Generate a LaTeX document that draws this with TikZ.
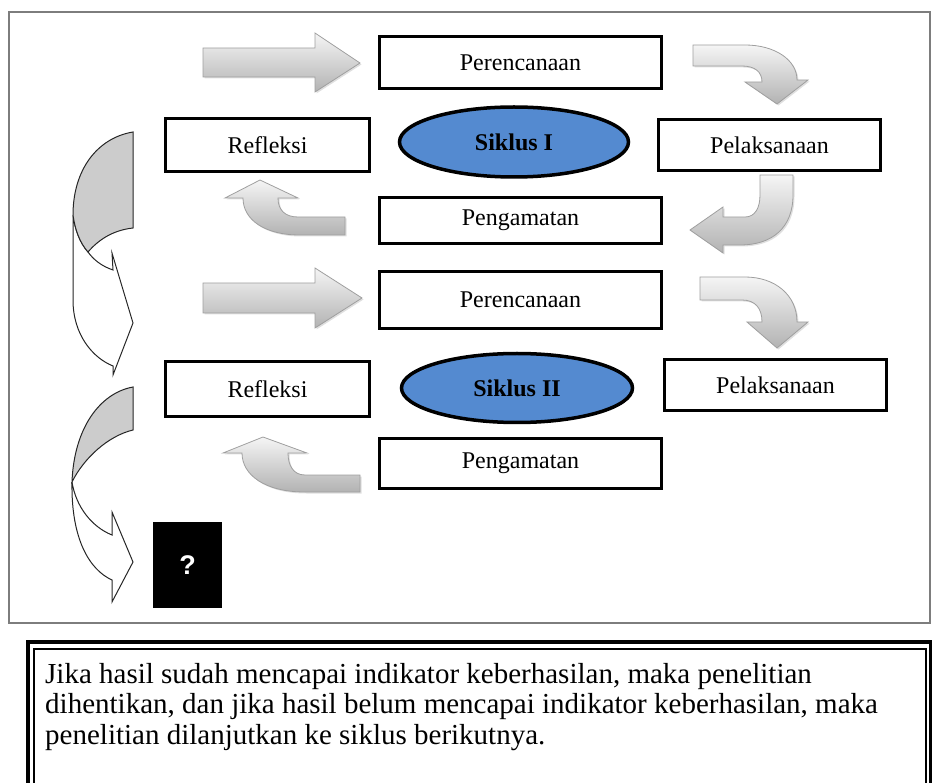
\documentclass[tikz,border=0pt]{standalone}
\usepackage{fontspec}
\setmainfont{Liberation Serif}
\newfontfamily\qmarkfont{Liberation Sans}
\usepackage{xcolor}
\usepackage{tikz}
\usetikzlibrary{shapes.geometric}
\usetikzlibrary{shadows}
\definecolor{siklusblue}{RGB}{84,138,208}
\definecolor{uturngray}{RGB}{204,204,204}
\definecolor{framegray}{RGB}{125,125,125}

\tikzset{
  stagebox/.style={rectangle, draw=black, line width=3.5pt, fill=white, inner sep=0pt,
    font=\fontsize{24}{27}\selectfont},
  siklus/.style={ellipse, draw=black, line width=3.5pt, fill=siklusblue, inner sep=0pt,
    font=\bfseries\fontsize{24}{27}\selectfont},
  blockarrow/.style={draw=gray!75, line width=0.8pt, top color=gray!8, bottom color=gray!60,
    drop shadow={opacity=0.25, shadow xshift=1.5pt, shadow yshift=-1.5pt}},
  uturn/.style={draw=gray!30!black, line width=1pt}
}

\begin{document}
\begin{tikzpicture}[x=1pt, y=-1pt]
\useasboundingbox (0,0) rectangle (932,783);
\clip (0,0) rectangle (932,783);

\draw[framegray, line width=2pt] (9,12) rectangle (930,623);

% siklus I
\node[stagebox, minimum width=282pt, minimum height=52pt] (per1) at (520.5,62.5) {Perencanaan};
\node[stagebox, minimum width=204pt, minimum height=53pt] (ref1) at (267.5,145) {Refleksi};
\node[siklus, minimum width=229pt, minimum height=70pt] (sik1) at (514,142) {Siklus I};
\node[stagebox, minimum width=222pt, minimum height=51pt] (pel1) at (769.5,145) {Pelaksanaan};
\node[stagebox, minimum width=282pt, minimum height=46pt] (pen1) at (520.5,220.5) {Pengamatan};

% siklus II
\node[stagebox, minimum width=282pt, minimum height=57pt] (per2) at (520.5,300) {Perencanaan};
\node[stagebox, minimum width=204pt, minimum height=55pt] (ref2) at (267.5,389) {Refleksi};
\node[siklus, minimum width=231pt, minimum height=69pt] (sik2) at (517,388) {Siklus II};
\node[stagebox, minimum width=222pt, minimum height=51pt] (pel2) at (775.5,385) {Pelaksanaan};
\node[stagebox, minimum width=282pt, minimum height=50pt] (pen2) at (520.5,463.5) {Pengamatan};

\node[rectangle, fill=black, text=white, minimum width=69pt, minimum height=86pt,
  font=\qmarkfont\bfseries\fontsize{27}{27}\selectfont] (lanjut) at (187.5,565) {?};

% panah lurus
\draw[blockarrow] (203,48) -- (315,48) -- (315,33) -- (360,63) -- (315,92) -- (315,77) -- (203,77) -- cycle;
\draw[blockarrow] (203,283) -- (315,283) -- (315,268) -- (362,298) -- (315,328) -- (315,313) -- (203,313) -- cycle;

% panah lengkung
\draw[blockarrow] (693,45) -- (745,45) .. controls (775,45) and (797,60) .. (797,80) -- (808,80)
  -- (777,104) -- (745,82) -- (762,82) .. controls (762,72) and (755,66) .. (742,66) -- (693,66) -- cycle;
\draw[blockarrow] (700,277) -- (745,277) .. controls (775,277) and (797,295) .. (797,322) -- (808,322)
  -- (777,348) -- (747,322) -- (762,322) .. controls (762,308) and (755,300) .. (742,300) -- (700,300) -- cycle;
\draw[blockarrow] (760,175) -- (793,175) -- (793,195) .. controls (793,228) and (772,245) .. (740,245)
  -- (723,245) -- (723,253) -- (690,230) -- (723,207) -- (723,217) -- (745,217)
  .. controls (755,217) and (760,208) .. (760,195) -- cycle;
\draw[blockarrow] (345,217) -- (345,235) -- (300,235) .. controls (265,235) and (243,220) .. (243,198)
  -- (225,198) -- (260,180) -- (298,198) -- (278,198) .. controls (278,210) and (285,217) .. (298,217) -- cycle;
\draw[blockarrow] (360,475) -- (360,492) -- (305,492) .. controls (265,492) and (242,475) .. (242,453)
  -- (223,453) -- (263,437) -- (307,453) -- (288,453) .. controls (288,465) and (293,475) .. (305,475) -- cycle;

% panah balik kiri
\draw[uturn, fill=white] (73,215) -- (73,300) .. controls (73,335) and (93,358) .. (113,366) -- (113,375)
  -- (133,323) -- (112,253) -- (113,270) .. controls (101,266) and (93,259) .. (88,252)
  .. controls (80,243) and (75,230) .. (73,215) -- cycle;
\draw[uturn, fill=uturngray] (133,132) .. controls (97,138) and (73,170) .. (73,215)
  .. controls (75,230) and (80,243) .. (88,252) .. controls (100,238) and (115,230) .. (133,228) -- cycle;
\draw[uturn, fill=white] (72,482) .. controls (71,540) and (90,570) .. (112,580) -- (112,602)
  -- (133,562) -- (112,512) -- (112,535) .. controls (92,527) and (76,507) .. (72,482) -- cycle;
\draw[uturn, fill=uturngray] (133,387) .. controls (100,393) and (74,428) .. (72,482)
  .. controls (84,458) and (108,436) .. (133,430) -- cycle;

% keterangan
\draw[line width=4pt] (28,642) rectangle (931,800);
\draw[line width=1.2pt] (34,649) rectangle (926,800);
\node[anchor=north west, align=left, inner sep=0pt, font=\fontsize{29}{30.5}\selectfont] (ket) at (45,663)
  {Jika hasil sudah mencapai indikator keberhasilan, maka penelitian\\
   dihentikan, dan jika hasil belum mencapai indikator keberhasilan, maka\\
   penelitian dilanjutkan ke siklus berikutnya.};
\end{tikzpicture}
\end{document}
